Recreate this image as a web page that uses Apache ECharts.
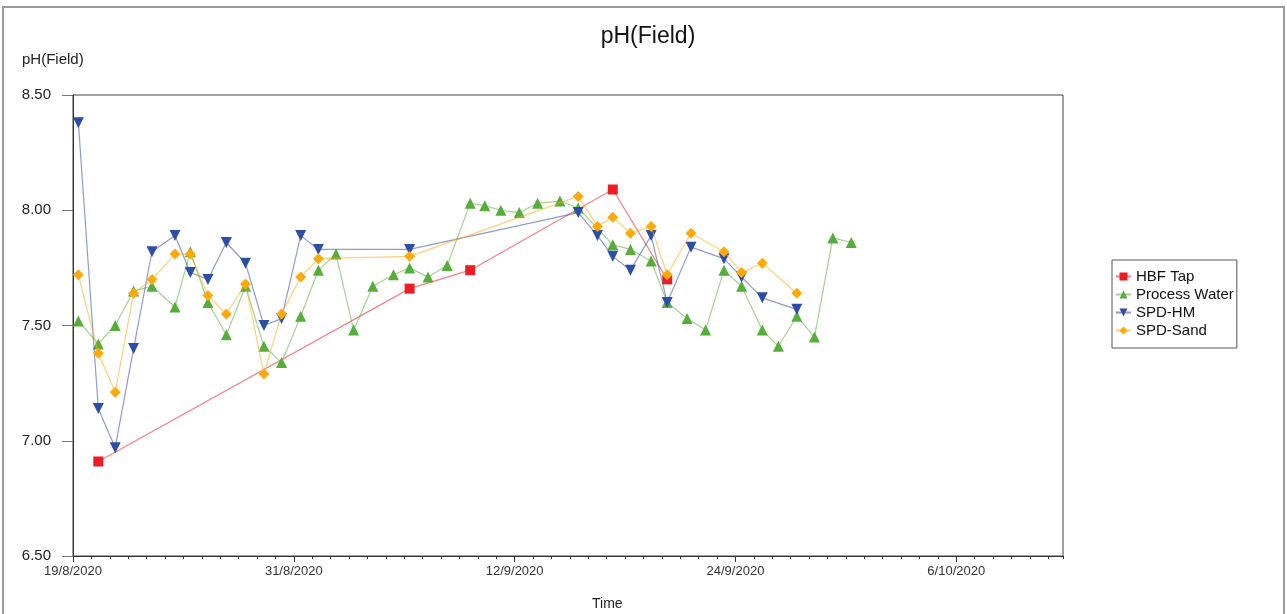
<!DOCTYPE html>
<html>
<head>
<meta charset="utf-8">
<script src="https://cdn.jsdelivr.net/npm/echarts@6/dist/echarts.min.js"></script>
<style>
  html, body { margin: 0; padding: 0; background: #fff; }
  #chart { width: 1287px; height: 614px; }
</style>
</head>
<body>
<div id="chart"></div>
<script>
// ---- data -------------------------------------------------------------
const seriesNames = ['HBF Tap', 'Process Water', 'SPD-HM', 'SPD-Sand'];

// x axis: days counted from 19/8/2020, a labelled tick every 12 days
const axisStartDate = '2020-08-19 00:00';
const axisSpanDays = 53.8;
const tickLabels = ['19/8/2020', '31/8/2020', '12/9/2020', '24/9/2020', '6/10/2020'];
const yTicks = [6.5, 7.0, 7.5, 8.0, 8.5];

const hbfTapTimes = ['2020-08-20 09:00', '2020-09-06 07:00', '2020-09-09 14:00', '2020-09-17 08:00', '2020-09-20 07:00'];
const hbfTapValues = [6.91, 7.66, 7.74, 8.09, 7.70];

const processWaterTimes = [
  '2020-08-19 07:00', '2020-08-20 09:00', '2020-08-21 07:00', '2020-08-22 07:00', '2020-08-23 07:00',
  '2020-08-24 13:00', '2020-08-25 09:00', '2020-08-26 08:00', '2020-08-27 08:00', '2020-08-28 09:00',
  '2020-08-29 09:00', '2020-08-30 08:00', '2020-08-31 09:00', '2020-09-01 08:00', '2020-09-02 07:00',
  '2020-09-03 06:00', '2020-09-04 07:00', '2020-09-05 10:00', '2020-09-06 07:00', '2020-09-07 07:00',
  '2020-09-08 08:00', '2020-09-09 14:00', '2020-09-10 09:00', '2020-09-11 06:00', '2020-09-12 06:00',
  '2020-09-13 06:00', '2020-09-14 11:00', '2020-09-15 11:00', '2020-09-17 08:00', '2020-09-18 07:00',
  '2020-09-19 10:00', '2020-09-20 07:00', '2020-09-21 09:00', '2020-09-22 09:00', '2020-09-23 09:00',
  '2020-09-24 08:00', '2020-09-25 11:00', '2020-09-26 08:00', '2020-09-27 08:00', '2020-09-28 07:00',
  '2020-09-29 07:00', '2020-09-30 07:00'
];
const processWaterValues = [
  7.52, 7.42, 7.50, 7.65, 7.67, 7.58, 7.82, 7.60, 7.46, 7.67,
  7.41, 7.34, 7.54, 7.74, 7.81, 7.48, 7.67, 7.72, 7.75, 7.71,
  7.76, 8.03, 8.02, 8.00, 7.99, 8.03, 8.04, 8.01, 7.85, 7.83,
  7.78, 7.60, 7.53, 7.48, 7.74, 7.67, 7.48, 7.41, 7.54, 7.45,
  7.88, 7.86
];

// SPD-HM and SPD-Sand were sampled together
const spdTimes = [
  '2020-08-19 07:00', '2020-08-20 09:00', '2020-08-21 07:00', '2020-08-22 07:00', '2020-08-23 07:00',
  '2020-08-24 13:00', '2020-08-25 09:00', '2020-08-26 08:00', '2020-08-27 08:00', '2020-08-28 09:00',
  '2020-08-29 09:00', '2020-08-30 08:00', '2020-08-31 09:00', '2020-09-01 08:00', '2020-09-06 07:00',
  '2020-09-15 11:00', '2020-09-16 12:00', '2020-09-17 08:00', '2020-09-18 07:00', '2020-09-19 10:00',
  '2020-09-20 07:00', '2020-09-21 14:00', '2020-09-23 09:00', '2020-09-24 08:00', '2020-09-25 11:00',
  '2020-09-27 08:00'
];
const spdHmValues = [
  8.38, 7.14, 6.97, 7.40, 7.82, 7.89, 7.73, 7.70, 7.86, 7.77,
  7.50, 7.53, 7.89, 7.83, 7.83, 7.99, 7.89, 7.80, 7.74, 7.89,
  7.60, 7.84, 7.79, 7.71, 7.62, 7.57
];
const spdSandValues = [
  7.72, 7.38, 7.21, 7.64, 7.70, 7.81, 7.81, 7.63, 7.55, 7.68,
  7.29, 7.55, 7.71, 7.79, 7.80, 8.06, 7.93, 7.97, 7.90, 7.93,
  7.72, 7.90, 7.82, 7.73, 7.77, 7.64
];

// ---- helpers ----------------------------------------------------------
const DAY_MS = 86400000;
function parseStamp(s) {
  const [d, t] = s.split(' ');
  const [y, m, dd] = d.split('-').map(Number);
  const [hh, mi] = (t || '00:00').split(':').map(Number);
  return Date.UTC(y, m - 1, dd, hh, mi);
}
const startMs = parseStamp(axisStartDate);
function toDays(s) { return (parseStamp(s) - startMs) / DAY_MS; }
function pairs(times, values) { return times.map((t, i) => [toDays(t), values[i]]); }

const FONT = "Arial, 'Liberation Sans', sans-serif";
const NARROW = "'Liberation Sans Narrow', 'Arial Narrow', Arial, sans-serif";

const styles = [
  { color: '#ee1c25', symbol: 'rect', rotate: 0, size: 10 },
  { color: '#55ae3a', symbol: 'triangle', rotate: 0, size: 11 },
  { color: '#2c4ea8', symbol: 'triangle', rotate: 180, size: 11 },
  { color: '#ffaa0c', symbol: 'diamond', rotate: 0, size: 11 }
];
const seriesData = [
  pairs(hbfTapTimes, hbfTapValues),
  pairs(processWaterTimes, processWaterValues),
  pairs(spdTimes, spdHmValues),
  pairs(spdTimes, spdSandValues)
];

const chart = echarts.init(document.getElementById('chart'), null, { renderer: 'canvas' });

const option = {
  animation: false,
  backgroundColor: '#fff',
  title: {
    text: 'pH(Field)',
    left: 643, top: 20, textAlign: 'center',
    textStyle: { fontFamily: FONT, fontSize: 23, fontWeight: 'normal', color: '#111' }
  },
  legend: {
    orient: 'vertical',
    left: 1112, top: 260,
    padding: [9, 3, 10, 3],
    itemGap: 3,
    itemWidth: 15, itemHeight: 10,
    borderColor: '#555', borderWidth: 1,
    backgroundColor: '#fff',
    textStyle: { fontFamily: FONT, fontSize: 15, color: '#111' },
    data: seriesNames
  },
  grid: {
    left: 73, top: 95, right: 224, bottom: 58,
    show: true, borderColor: '#444', borderWidth: 1, backgroundColor: 'transparent'
  },
  xAxis: [
    {
      type: 'value', min: 0, max: axisSpanDays, interval: 12,
      axisLine: { lineStyle: { color: '#333', width: 1 } },
      axisTick: { show: true, length: 6, lineStyle: { color: '#333' } },
      axisLabel: {
        margin: 9, showMaxLabel: false,
        fontFamily: NARROW, fontSize: 13, color: '#333',
        formatter: v => (Math.abs(v % 12) < 1e-6 ? tickLabels[Math.round(v / 12)] : '')
      },
      splitLine: { show: false }
    },
    {
      // daily minor ticks along the bottom edge
      type: 'value', min: 0, max: axisSpanDays, interval: 1, position: 'bottom',
      axisLine: { show: false },
      axisTick: { show: true, length: 3, lineStyle: { color: '#333' } },
      axisLabel: { show: false },
      splitLine: { show: false }
    }
  ],
  yAxis: {
    type: 'value', min: yTicks[0], max: yTicks[yTicks.length - 1], interval: 0.5,
    axisLine: { show: true, lineStyle: { color: '#333', width: 1 } },
    axisTick: { show: true, length: 11, lineStyle: { color: '#777' } },
    axisLabel: {
      margin: 22, fontFamily: FONT, fontSize: 15, color: '#222',
      formatter: v => v.toFixed(2)
    },
    splitLine: { show: false }
  },
  graphic: [
    {
      type: 'rect', silent: true, z: -1,
      shape: { x: 3, y: 7, width: 1281, height: 640 },
      style: { fill: 'none', stroke: '#9a9a9a', lineWidth: 2 }
    },
    {
      type: 'text', left: 22, top: 52,
      style: { text: 'pH(Field)', font: "15px " + FONT, fill: '#222' }
    },
    {
      type: 'text', left: 592, top: 597,
      style: { text: 'Time', font: "14px " + NARROW, fill: '#222' }
    }
  ],
  series: seriesNames.map((name, i) => ({
    name,
    type: 'line',
    xAxisIndex: 0,
    data: seriesData[i],
    symbol: styles[i].symbol,
    symbolRotate: styles[i].rotate,
    symbolSize: styles[i].size,
    showAllSymbol: true,
    itemStyle: { color: styles[i].color, borderWidth: 0 },
    lineStyle: { color: styles[i].color, width: 1.2, opacity: 0.55 },
    emphasis: { disabled: true },
    z: 2 + i
  }))
};

chart.setOption(option);
</script>
</body>
</html>
